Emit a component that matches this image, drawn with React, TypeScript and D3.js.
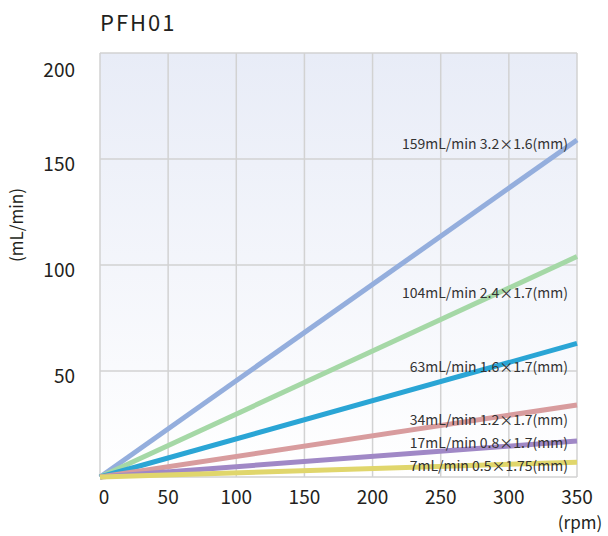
import { useEffect, useRef } from 'react';
import * as d3 from 'd3';

const rpmTicks = [0, 50, 100, 150, 200, 250, 300, 350];
const flowTicks = [0, 50, 100, 150, 200];
const flowAt350 = [159, 104, 63, 34, 17, 7];
const seriesLabels = [
  '159mL/min 3.2×1.6(mm)',
  '104mL/min 2.4×1.7(mm)',
  '63mL/min 1.6×1.7(mm)',
  '34mL/min 1.2×1.7(mm)',
  '17mL/min 0.8×1.7(mm)',
  '7mL/min 0.5×1.75(mm)',
];
const labelValues = [155, 85, 50, 25, 14, 3.5];
const colors = ['#94aedd', '#a5d8a6', '#2aa5d5', '#d89c9e', '#a088c6', '#e0d66c'];

const App = () => {
  const ref = useRef<SVGSVGElement | null>(null);

  useEffect(() => {
    const svg = d3.select(ref.current);
    svg.selectAll('*').remove();

    const left = 100, right = 577, top = 53, bottom = 477;
    const x = d3.scaleLinear().domain([0, 350]).range([left, right]);
    const y = d3.scaleLinear().domain([0, 200]).range([bottom, top]);
    const font = '"Noto Sans CJK JP", "Noto Sans", sans-serif';

    const defs = svg.append('defs');
    const grad = defs.append('linearGradient').attr('id', 'bg').attr('x1', 0).attr('y1', 0).attr('x2', 0).attr('y2', 1);
    grad.append('stop').attr('offset', '0%').attr('stop-color', '#e8ecf7');
    grad.append('stop').attr('offset', '100%').attr('stop-color', '#ffffff');

    svg.append('rect')
      .attr('x', left).attr('y', top)
      .attr('width', right - left).attr('height', bottom - top)
      .attr('fill', 'url(#bg)');

    // grid
    svg.append('g').selectAll('line').data(rpmTicks).enter().append('line')
      .attr('x1', d => x(d)).attr('x2', d => x(d))
      .attr('y1', top).attr('y2', bottom)
      .attr('stroke', '#d2d2d2').attr('stroke-width', 1.5);
    svg.append('g').selectAll('line').data(flowTicks).enter().append('line')
      .attr('x1', left).attr('x2', right)
      .attr('y1', d => y(d)).attr('y2', d => y(d))
      .attr('stroke', '#d2d2d2').attr('stroke-width', 1.5);

    // lines
    svg.append('g').selectAll('line').data(flowAt350).enter().append('line')
      .attr('x1', x(0)).attr('y1', y(0))
      .attr('x2', x(350)).attr('y2', d => y(d))
      .attr('stroke', (d, i) => colors[i])
      .attr('stroke-width', 5);

    // series labels
    svg.append('g').selectAll('text').data(seriesLabels).enter().append('text')
      .attr('x', 568)
      .attr('y', (d, i) => y(labelValues[i]) + 1)
      .attr('text-anchor', 'end')
      .attr('font-family', font)
      .attr('font-size', 14)
      .attr('fill', '#333')
      .text(d => d);

    // y tick labels
    svg.append('g').selectAll('text').data(flowTicks.filter(d => d > 0)).enter().append('text')
      .attr('x', 75)
      .attr('y', d => Math.max(y(d) + 12, 77))
      .attr('text-anchor', 'end')
      .attr('font-family', font)
      .attr('font-size', 19)
      .attr('fill', '#231f20')
      .text(d => d);

    // x tick labels
    svg.append('g').selectAll('text').data(rpmTicks).enter().append('text')
      .attr('x', d => x(d) + (d === 0 ? 4 : 0))
      .attr('y', 504)
      .attr('text-anchor', 'middle')
      .attr('font-family', font)
      .attr('font-size', 19)
      .attr('fill', '#231f20')
      .text(d => d);

    svg.append('text')
      .attr('x', 580).attr('y', 529)
      .attr('text-anchor', 'middle')
      .attr('font-family', font)
      .attr('font-size', 17)
      .attr('fill', '#231f20')
      .text('(rpm)');

    svg.append('text')
      .attr('transform', 'translate(23,225) rotate(-90)')
      .attr('text-anchor', 'middle')
      .attr('font-family', font)
      .attr('font-size', 17)
      .attr('fill', '#231f20')
      .text('(mL/min)');

    svg.append('text')
      .attr('x', 100).attr('y', 31)
      .attr('font-family', font)
      .attr('font-size', 22)
      .attr('letter-spacing', 2)
      .attr('fill', '#231f20')
      .text('PFH01');
  }, []);

  return (
    <svg
      ref={ref}
      width={608}
      height={536}
      style={{ position: 'absolute', left: 0, top: 0 }}
    />
  );
};

export default App;
